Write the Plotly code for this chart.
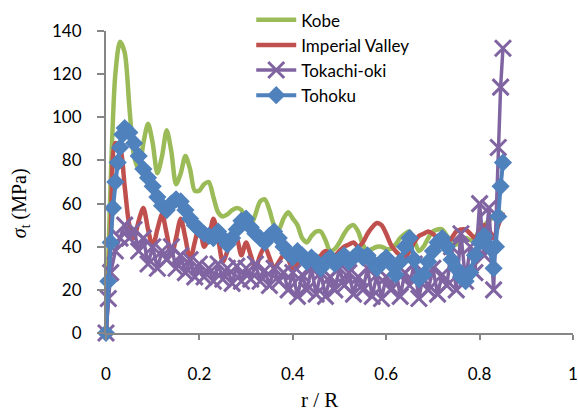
import plotly.graph_objects as go

# ---------------- data ----------------
r_grid = [0.00, 0.01, 0.02, 0.03, 0.04, 0.05, 0.06, 0.07, 0.08, 0.09,
          0.10, 0.11, 0.12, 0.13, 0.14, 0.15, 0.16, 0.17, 0.18, 0.19,
          0.20, 0.21, 0.22, 0.23, 0.24, 0.25, 0.26, 0.27, 0.28, 0.29,
          0.30, 0.31, 0.32, 0.33, 0.34, 0.35, 0.36, 0.37, 0.38, 0.39,
          0.40, 0.41, 0.42, 0.43, 0.44, 0.45, 0.46, 0.47, 0.48, 0.49,
          0.50, 0.51, 0.52, 0.53, 0.54, 0.55, 0.56, 0.57, 0.58, 0.59,
          0.60, 0.61, 0.62, 0.63, 0.64, 0.65, 0.66, 0.67, 0.68, 0.69,
          0.70, 0.71, 0.72, 0.73, 0.74, 0.75, 0.76, 0.77, 0.78, 0.79,
          0.80, 0.81, 0.82, 0.83, 0.84, 0.85]

kobe = [0, 70, 120, 135, 130, 105, 82, 76, 88, 97,
        88, 74, 82, 94, 84, 69, 74, 82, 76, 66,
        66, 69, 70, 63, 56, 54, 55, 57, 58, 57,
        52, 50, 55, 61, 62, 57, 50, 48, 53, 56,
        53, 50, 44, 42, 45, 47, 47, 43, 38, 39,
        42, 46, 49, 50, 47, 41, 38, 39, 40, 40,
        39, 39, 41, 44, 46, 47, 43, 38, 40, 44,
        47, 48, 48, 45, 42, 41, 42, 44, 43, 44,
        48, 50, 52, 54, 55, 56]

imperial = [0, 45, 88, 86, 68, 50, 44, 52, 58, 48,
            40, 48, 55, 46, 36, 44, 53, 44, 34, 42,
            50, 40, 44, 53, 44, 33, 38, 46, 44, 36,
            42, 36, 30, 36, 40, 35, 30, 33, 36, 34,
            30, 32, 35, 33, 31, 33, 36, 38, 37, 36,
            38, 40, 41, 42, 40, 42, 46, 49, 51, 50,
            46, 41, 38, 36, 35, 38, 42, 45, 46, 47,
            46, 44, 42, 42, 44, 47, 48, 48, 46, 44,
            47, 50, 48, 44, 50, 56]

r_tokachi = [0.000, 0.005, 0.01, 0.02, 0.03, 0.04, 0.05, 0.06, 0.07, 0.08, 0.09,
             0.10, 0.11, 0.12, 0.13, 0.14, 0.15, 0.16, 0.17, 0.18, 0.19,
             0.20, 0.21, 0.22, 0.23, 0.24, 0.25, 0.26, 0.27, 0.28, 0.29,
             0.30, 0.31, 0.32, 0.33, 0.34, 0.35, 0.36, 0.37, 0.38, 0.39,
             0.40, 0.41, 0.42, 0.43, 0.44, 0.45, 0.46, 0.47, 0.48, 0.49,
             0.50, 0.51, 0.52, 0.53, 0.54, 0.55, 0.56, 0.57, 0.58, 0.59,
             0.60, 0.61, 0.62, 0.63, 0.64, 0.65, 0.66, 0.67, 0.68, 0.69,
             0.70, 0.71, 0.72, 0.73, 0.74, 0.75, 0.76, 0.77, 0.78, 0.79,
             0.80, 0.81, 0.82, 0.83, 0.84, 0.845, 0.85]

tokachi = [0, 16, 28, 38, 44, 50, 44, 48, 38, 44, 32,
           40, 30, 38, 34, 40, 30, 36, 28, 34, 26,
           32, 26, 30, 24, 32, 25, 30, 23, 31, 24,
           30, 25, 32, 24, 29, 22, 30, 24, 28, 20,
           28, 17, 27, 20, 30, 18, 28, 17, 26, 20,
           30, 22, 28, 18, 26, 20, 30, 17, 27, 16,
           26, 20, 30, 17, 28, 22, 32, 16, 28, 20,
           30, 18, 27, 22, 40, 20, 46, 24, 40, 28,
           60, 36, 58, 20, 86, 114, 132]

r_tohoku = [0.000, 0.005, 0.010, 0.015, 0.020, 0.025, 0.030, 0.035, 0.04,
            0.05, 0.06, 0.07, 0.08, 0.09,
            0.10, 0.11, 0.12, 0.13, 0.14, 0.15, 0.16, 0.17, 0.18, 0.19,
            0.20, 0.21, 0.22, 0.23, 0.24, 0.25, 0.26, 0.27, 0.28, 0.29,
            0.30, 0.31, 0.32, 0.33, 0.34, 0.35, 0.36, 0.37, 0.38, 0.39,
            0.40, 0.41, 0.42, 0.43, 0.44, 0.45, 0.46, 0.47, 0.48, 0.49,
            0.50, 0.51, 0.52, 0.53, 0.54, 0.55, 0.56, 0.57, 0.58, 0.59,
            0.60, 0.61, 0.62, 0.63, 0.64, 0.65, 0.66, 0.67, 0.68, 0.69,
            0.70, 0.71, 0.72, 0.73, 0.74, 0.75, 0.76, 0.77, 0.78, 0.79,
            0.80, 0.81, 0.82, 0.83, 0.835, 0.84, 0.845, 0.85]

tohoku = [0, 24, 42, 58, 70, 79, 86, 92, 95,
          93, 88, 82, 76, 72,
          68, 63, 59, 57, 60, 62, 61, 57, 53, 50,
          48, 46, 45, 44, 47, 44, 41, 44, 48, 52,
          53, 49, 46, 44, 42, 45, 47, 44, 40, 37,
          35, 38, 36, 33, 35, 33, 30, 33, 35, 32,
          34, 36, 33, 35, 37, 35, 36, 33, 30, 33,
          35, 32, 27, 33, 40, 44, 34, 25, 27, 33,
          38, 42, 44, 40, 34, 30, 26, 24, 28, 36,
          42, 45, 40, 30, 40, 54, 68, 79]

series_names = ["Kobe", "Imperial Valley", "Tokachi-oki", "Tohoku"]
x_ticks = [0, 0.2, 0.4, 0.6, 0.8, 1]
x_ticktext = ["0", "0.2", "0.4", "0.6", "0.8", "1"]
y_ticks = [0, 20, 40, 60, 80, 100, 120, 140]

# ---------------- figure ----------------
GREEN = "#9BBB59"
RED = "#C0504D"
PURPLE = "#8064A2"
BLUE = "#4F81BD"

fig = go.Figure()
fig.add_trace(go.Scatter(x=r_grid, y=kobe, name=series_names[0], mode="lines",
                         line=dict(color=GREEN, width=4.5, shape="spline", smoothing=0.8),
                         cliponaxis=False))
fig.add_trace(go.Scatter(x=r_grid, y=imperial, name=series_names[1], mode="lines",
                         line=dict(color=RED, width=4.5, shape="spline", smoothing=0.8),
                         cliponaxis=False))
fig.add_trace(go.Scatter(x=r_tokachi, y=tokachi, name=series_names[2], mode="lines+markers",
                         line=dict(color=PURPLE, width=3.5),
                         marker=dict(symbol="x-thin", size=16,
                                     line=dict(color=PURPLE, width=3), color=PURPLE),
                         cliponaxis=False))
fig.add_trace(go.Scatter(x=r_tohoku, y=tohoku, name=series_names[3], mode="lines+markers",
                         line=dict(color=BLUE, width=4),
                         marker=dict(symbol="diamond", size=14, color=BLUE),
                         cliponaxis=False))

tick_font = dict(family="Lato, Carlito, Calibri, sans-serif", size=17, color="#000000")
axis_common = dict(showline=True, linecolor="#868686", linewidth=2, showgrid=False,
                   zeroline=False, ticks="outside", tickcolor="#868686", tickwidth=2,
                   tickfont=tick_font, automargin=False)

fig.update_layout(
    width=578, height=414,
    margin=dict(l=106, r=5, t=31, b=81, autoexpand=False),
    paper_bgcolor="white", plot_bgcolor="white",
    showlegend=True,
    legend=dict(x=0.311, y=1.095, xanchor="left", yanchor="top",
                font=dict(family="Lato, Carlito, Calibri, sans-serif", size=17, color="#000000"),
                bgcolor="rgba(0,0,0,0)", tracegroupgap=0, itemwidth=40),
    xaxis=dict(range=[0, 1], tickvals=x_ticks, ticktext=x_ticktext, ticklen=5,
               ticklabelstandoff=20, tickangle=0, **axis_common),
    yaxis=dict(range=[0, 140], tickvals=y_ticks, ticklen=7,
               ticklabelstandoff=12, **axis_common),
    annotations=[
        dict(text="r / R", xref="paper", yref="paper", x=0.458, y=-0.222,
             xanchor="center", yanchor="middle", showarrow=False,
             font=dict(family="Liberation Serif, Times New Roman, serif", size=21, color="#000000")),
        dict(text="<i>σ</i><sub>t</sub> (MPa)", xref="paper", yref="paper", x=-0.184, y=0.43,
             xanchor="center", yanchor="middle", showarrow=False, textangle=-90,
             font=dict(family="Liberation Serif, Times New Roman, serif", size=20, color="#000000")),
    ],
)

fig.write_html("out.html")
